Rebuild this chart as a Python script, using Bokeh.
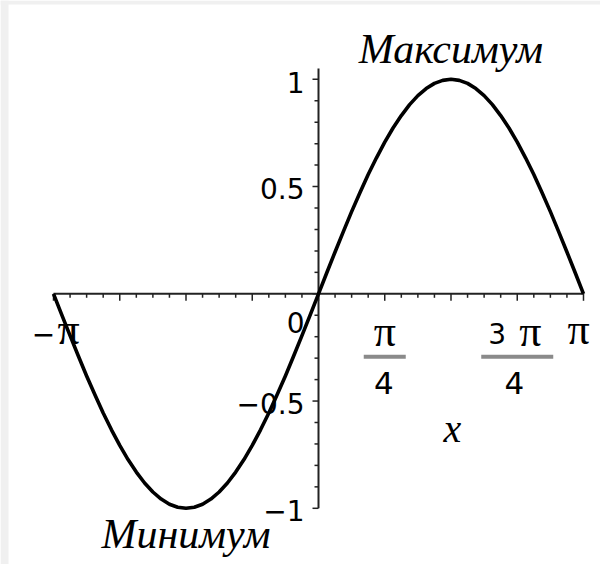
import math

from bokeh.core.properties import value
from bokeh.embed import file_html
from bokeh.models import Range1d
from bokeh.plotting import figure
from bokeh.resources import INLINE

# ---- data -------------------------------------------------------------
# curve samples, x positions in steps of pi/32 from -pi to pi
curve_step = list(range(-32, 33))
curve_y = [0.0, -0.098, -0.195, -0.290, -0.383, -0.471, -0.556, -0.634,
           -0.707, -0.773, -0.831, -0.882, -0.924, -0.957, -0.981, -0.995,
           -1.0, -0.995, -0.981, -0.957, -0.924, -0.882, -0.831, -0.773,
           -0.707, -0.634, -0.556, -0.471, -0.383, -0.290, -0.195, -0.098,
           0.0, 0.098, 0.195, 0.290, 0.383, 0.471, 0.556, 0.634,
           0.707, 0.773, 0.831, 0.882, 0.924, 0.957, 0.981, 0.995,
           1.0, 0.995, 0.981, 0.957, 0.924, 0.882, 0.831, 0.773,
           0.707, 0.634, 0.556, 0.471, 0.383, 0.290, 0.195, 0.098, 0.0]

# annotated extremes
extreme_x = [math.pi / 2, -math.pi / 2]
extreme_y = [1.0, -1.0]
extreme_text = ["Максимум", "Минимум"]

# y axis labels
y_label_values = [1.0, 0.5, 0.0, -0.5, -1.0]
y_label_text = ["1", "0.5", "0", "\u22120.5", "\u22121"]

# x axis: plain labels and fraction labels (coefficient pi over denominator)
x_plain_values = [-math.pi, math.pi]
x_plain_sign = ["\u2212", ""]
x_frac_values = [math.pi / 4, 3 * math.pi / 4]
x_frac_coef = ["", "3"]
x_frac_den = ["4", "4"]
PI = "\u03c0"
x_title = "x"

# ---- geometry ---------------------------------------------------------
W, H = 600, 564
OX, OY = 318.0, 293.3      # pixel position of the origin
SX, SY = 84.35, 214.5      # pixels per data unit

x_range = Range1d(-OX / SX, (W - OX) / SX)
y_range = Range1d(-(H - OY) / SY, OY / SY)


def dx(px):
    return px / SX


def dy(px):
    return px / SY


p = figure(width=W, height=H, x_range=x_range, y_range=y_range,
           output_backend="svg", toolbar_location=None,
           x_axis_type=None, y_axis_type=None, min_border=0)
p.grid.visible = False
p.outline_line_color = None
p.background_fill_color = "white"
p.border_fill_color = "white"

# thin grey frame strips along the left and top edges
p.quad(left=[x_range.start, x_range.start], right=[x_range.start + dx(8), x_range.end],
       bottom=[y_range.start, y_range.end - dy(4)], top=[y_range.end, y_range.end],
       fill_color="#f0f0f0", line_color=None)

AX = "#222222"

# x axis line with ticks hanging below
p.segment(x0=[-math.pi], y0=[0], x1=[math.pi], y1=[0], line_color=AX, line_width=2)
x_major = [k * math.pi / 4 for k in range(-4, 5)]
x_minor = [k * math.pi / 16 for k in range(-16, 17) if k % 4 != 0]
p.segment(x0=x_minor, y0=[0] * len(x_minor), x1=x_minor, y1=[-dy(4)] * len(x_minor),
          line_color=AX, line_width=1.5)
p.segment(x0=x_major, y0=[0] * len(x_major), x1=x_major, y1=[-dy(7)] * len(x_major),
          line_color=AX, line_width=1.5)

# y axis line with ticks pointing left
p.segment(x0=[0], y0=[-1.0], x1=[0], y1=[1.05], line_color=AX, line_width=2)
y_major = [k * 0.5 for k in range(-2, 3)]
y_minor = [k * 0.1 for k in range(-10, 11) if k % 5 != 0]
p.segment(x0=[0] * len(y_minor), y0=y_minor, x1=[-dx(4)] * len(y_minor), y1=y_minor,
          line_color=AX, line_width=1.5)
p.segment(x0=[0] * len(y_major), y0=y_major, x1=[-dx(6)] * len(y_major), y1=y_major,
          line_color=AX, line_width=1.5)

# the curve
curve_x = [k * math.pi / 32 for k in curve_step]
p.line(curve_x, curve_y, line_color="black", line_width=3.6, line_join="round")

NUM_FONT = value("DejaVu Sans")
SERIF = value("Liberation Serif")

# y labels
p.text(x=[0.0] * len(y_label_values), y=y_label_values, text=y_label_text,
       x_offset=-14, y_offset=[3, 2, 29, 2, 2],
       text_align="right", text_baseline="middle",
       text_font=NUM_FONT, text_font_size="28px", text_color="black")

# x labels: -pi and pi (sign in sans, pi in serif)
p.text(x=x_plain_values, y=[0.0, 0.0], text=[PI, PI],
       x_offset=[15, -5], y_offset=36, text_align="center",
       text_baseline="alphabetic", text_font=SERIF, text_font_size="44px",
       text_color="black")
p.text(x=x_plain_values, y=[0.0, 0.0], text=x_plain_sign,
       x_offset=[-10, 0], y_offset=40, text_align="center",
       text_baseline="alphabetic", text_font=NUM_FONT, text_font_size="28px",
       text_color="black")

# x labels: fractions
p.text(x=x_frac_values, y=[0.0, 0.0], text=[PI, PI], x_offset=[0, 13], y_offset=38,
       text_align="center", text_baseline="alphabetic", text_font=SERIF,
       text_font_size="44px", text_color="black")
p.text(x=x_frac_values, y=[0.0, 0.0], text=x_frac_coef, x_offset=[0, -20], y_offset=40,
       text_align="center", text_baseline="alphabetic", text_font=NUM_FONT,
       text_font_size="28px", text_color="black")
bar_half = [dx(21), dx(36)]
p.segment(x0=[v - h for v, h in zip(x_frac_values, bar_half)], y0=[-dy(63)] * 2,
          x1=[v + h for v, h in zip(x_frac_values, bar_half)], y1=[-dy(63)] * 2,
          line_color="#8a8a8a", line_width=4)
p.text(x=x_frac_values, y=[0.0, 0.0], text=x_frac_den, x_offset=[-1, -3], y_offset=89,
       text_align="center", text_baseline="alphabetic", text_font=NUM_FONT,
       text_font_size="31px", text_color="black")

# axis title
p.text(x=[dx(452 - OX)], y=[0.0], text=[x_title], y_offset=135,
       text_align="center", text_baseline="alphabetic", text_font=SERIF,
       text_font_style="italic", text_font_size="40px", text_color="black")

# extreme annotations
p.text(x=extreme_x, y=extreme_y, text=extreme_text, y_offset=[-30, 26],
       text_align="center", text_baseline="alphabetic", text_font=SERIF,
       text_font_style="italic", text_font_size="42px", text_color="black")

open("out.html", "w").write(file_html(p, INLINE))
